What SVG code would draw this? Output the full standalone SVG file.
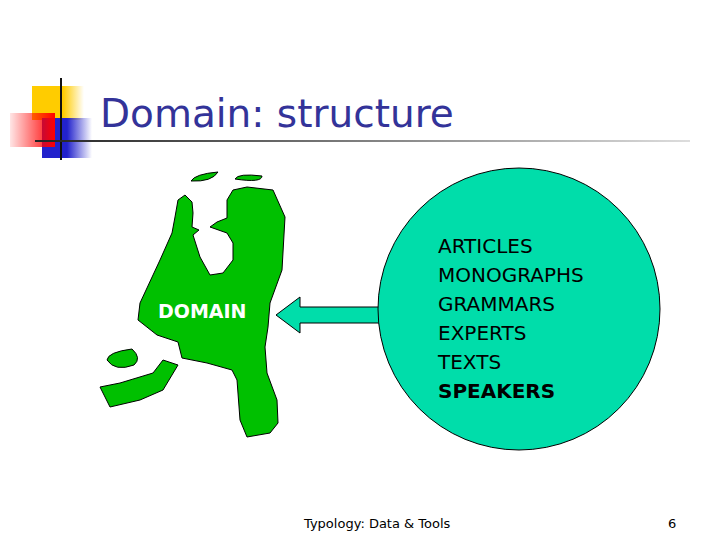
<svg xmlns="http://www.w3.org/2000/svg" width="720" height="540" viewBox="0 0 720 540">
<defs>
<linearGradient id="gy" x1="0" x2="1"><stop offset="0.6" stop-color="#FFCC00"/><stop offset="1" stop-color="#FFCC00" stop-opacity="0"/></linearGradient>
<linearGradient id="gb" x1="0" x2="1"><stop offset="0.5" stop-color="#2222CC"/><stop offset="1" stop-color="#2222CC" stop-opacity="0"/></linearGradient>
<linearGradient id="gr" x1="0" x2="1"><stop offset="0" stop-color="#FF0000" stop-opacity="0.1"/><stop offset="1" stop-color="#FF0000"/></linearGradient>
<linearGradient id="gl" x1="0" x2="1"><stop offset="0" stop-color="#222"/><stop offset="1" stop-color="#ddd"/></linearGradient>
<style>
.map{fill:#00C000;stroke:#000;stroke-width:1}
.lst{font-family:Tahoma,"DejaVu Sans",sans-serif;font-size:20px;fill:#000}
</style>
</defs>
<g id="logo">
<rect x="32" y="86" width="52" height="34" fill="url(#gy)"/>
<rect x="42" y="118" width="50" height="40" fill="url(#gb)"/>
<rect x="10" y="113" width="45" height="34" fill="url(#gr)"/>
<line x1="61" y1="78" x2="61" y2="160" stroke="#111" stroke-width="2"/>
</g>
<rect x="35" y="140" width="655" height="2" fill="url(#gl)"/>
<text id="title" x="100" y="127" font-family="Tahoma,'DejaVu Sans',sans-serif" font-size="39" fill="#333399">Domain: structure</text>
<g id="map">
<path class="map" d="M185,195 L192,202 L193,213 L192,227 L199,230 L193,235 L200,257 L210,275 L223,273 L233,260 L233,243 L227,233 L210,227 L217,222 L227,218 L227,200 L233,190 L247,187 L273,190 L285,217 L282,270 L270,303 L268,327 L265,347 L267,373 L277,400 L278,423 L270,433 L247,437 L240,420 L237,380 L232,370 L207,363 L182,358 L178,342 L157,335 L138,320 L140,303 L160,260 L172,233 L175,217 L178,200 Z"/>
<path class="map" d="M191,181 Q195,174 218,172 Q212,182 191,181 Z"/>
<path class="map" d="M235,179 Q238,173 262,176 Q262,183 235,179 Z"/>
<path class="map" d="M107,360 Q108,352 132,349 Q142,358 134,365 Q115,372 107,360 Z"/>
<path class="map" d="M100,387 L110,407 L140,400 L163,390 L178,365 L163,360 L153,373 L120,383 Z"/>
<text x="158" y="318" font-family="Tahoma,'DejaVu Sans',sans-serif" font-weight="bold" font-size="19" fill="#fff">DOMAIN</text>
</g>
<g id="connectors">
<path d="M380,307 L300,307 L300,297 L276,315 L300,333 L300,323 L380,323 Z" fill="#00DDAA" stroke="#000" stroke-width="1"/>
</g>
<g id="sources">
<circle cx="519" cy="309" r="141" fill="#00DDAA" stroke="#000" stroke-width="1"/>
<text class="lst" x="438" y="253">ARTICLES</text>
<text class="lst" x="438" y="282">MONOGRAPHS</text>
<text class="lst" x="438" y="311">GRAMMARS</text>
<text class="lst" x="438" y="340">EXPERTS</text>
<text class="lst" x="438" y="369">TEXTS</text>
<text class="lst" x="438" y="398" font-weight="bold">SPEAKERS</text>
</g>
<text x="304" y="528" font-family="Tahoma,'DejaVu Sans',sans-serif" font-size="13">Typology: Data &amp; Tools</text>
<text x="668" y="528" font-family="Tahoma,'DejaVu Sans',sans-serif" font-size="13">6</text>
</svg>
